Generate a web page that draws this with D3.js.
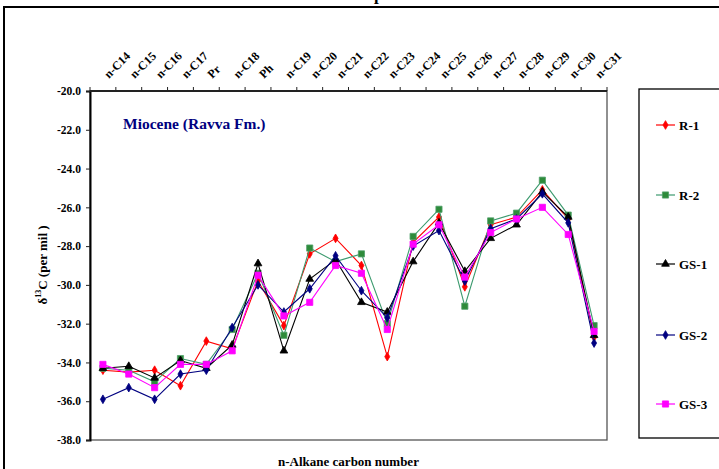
<!DOCTYPE html>
<html>
<head>
<meta charset="utf-8">
<script src="https://cdn.jsdelivr.net/npm/d3@7"></script>
<style>
  html, body { margin: 0; padding: 0; background: #fff; }
  svg { display: block; font-family: "Liberation Serif", "Times New Roman", serif; font-weight: bold; }
</style>
</head>
<body>
<script>
// n-alkane / isoprenoid compounds along the x axis
const categories = ["n-C14", "n-C15", "n-C16", "n-C17", "Pr", "n-C18", "Ph", "n-C19", "n-C20", "n-C21",
                    "n-C22", "n-C23", "n-C24", "n-C25", "n-C26", "n-C27", "n-C28", "n-C29", "n-C30", "n-C31"];

// δ13C values (per mil) for each sample
const r1  = [-34.4, -34.5, -34.4, -35.2, -32.9, -33.3, -29.8, -32.1, -28.4, -27.6, -29.0, -33.7, -27.8, -26.5, -30.1, -26.9, -26.5, -25.1, -26.6, -32.7];
const r2  = [-34.3, -34.4, -35.0, -33.8, -34.1, -32.3, -29.4, -32.6, -28.1, -28.8, -28.4, -32.0, -27.5, -26.1, -31.1, -26.7, -26.3, -24.6, -26.4, -32.1];
const gs1 = [-34.3, -34.2, -34.8, -33.9, -34.3, -33.1, -28.9, -33.4, -29.7, -28.7, -30.9, -31.4, -28.8, -26.8, -29.3, -27.6, -26.9, -25.2, -26.5, -32.6];
const gs2 = [-35.9, -35.3, -35.9, -34.6, -34.4, -32.2, -30.0, -31.4, -30.2, -28.5, -30.3, -31.7, -28.0, -27.2, -29.8, -27.1, -26.6, -25.3, -26.8, -33.0];
const gs3 = [-34.1, -34.6, -35.3, -34.1, -34.1, -33.4, -29.5, -31.6, -30.9, -29.0, -29.4, -32.3, -27.9, -26.9, -29.6, -27.3, -26.6, -26.0, -27.4, -32.4];

const seriesNames = ["R-1", "R-2", "GS-1", "GS-2", "GS-3"];
const seriesValues = [r1, r2, gs1, gs2, gs3];

// y axis ticks and their printed labels
const yTicks = [-20, -22, -24, -26, -28, -30, -32, -34, -36, -38];
const yTickLabels = ["-20.0", "-22.0", "-24.0", "-26.0", "-28.0", "-30.0", "-32.0", "-34.0", "-36.0", "-38.0"];

// drawing styles per series
const styles = {
  "R-1":  { line: "#ff0000", fill: "#ff0000", stroke: "#ff0000", symbol: d3.symbolDiamond, size: 22 },
  "R-2":  { line: "#3c9a6e", fill: "#2e8b3a", stroke: "#4f9f6a", symbol: d3.symbolSquare,  size: 38 },
  "GS-1": { line: "#000000", fill: "#000000", stroke: "#000000", symbol: d3.symbolTriangle, size: 26 },
  "GS-2": { line: "#000080", fill: "#000080", stroke: "#000080", symbol: d3.symbolDiamond, size: 22 },
  "GS-3": { line: "#ff00ff", fill: "#ff00ff", stroke: "#ff00ff", symbol: d3.symbolSquare,  size: 38 }
};

const W = 719, H = 469;
const plot = { left: 90, right: 607, top: 91, bottom: 440 };

const svg = d3.select("body").append("svg").attr("width", W).attr("height", H);

// outer chart frame
svg.append("rect").attr("x", 4).attr("y", 7).attr("width", W + 10).attr("height", H + 10)
  .attr("fill", "none").attr("stroke", "#000").attr("stroke-width", 2);

// chart title (runs above the visible frame)
const title = svg.append("text").attr("y", 0).attr("font-size", 17)
  .text("δ13C profile of n-alkanes");
{
  const node = title.node();
  const str = node.textContent;
  const idx = str.indexOf("p");
  const pre = node.getSubStringLength(0, idx);
  title.attr("x", 374 - pre);
}

const x = d3.scaleBand().domain(categories).range([plot.left, plot.right]).padding(0);
const y = d3.scaleLinear().domain([-38, -20]).range([plot.bottom, plot.top]);

// plot area border
svg.append("rect")
  .attr("x", plot.left).attr("y", plot.top)
  .attr("width", plot.right - plot.left).attr("height", plot.bottom - plot.top)
  .attr("fill", "#fff").attr("stroke", "#555").attr("stroke-width", 1.3);

// y axis
const yAxis = d3.axisLeft(y).tickValues(yTicks)
  .tickFormat((d, i) => yTickLabels[i]).tickSize(4).tickPadding(5);
const gy = svg.append("g").attr("transform", `translate(${plot.left},0)`).call(yAxis);
gy.select(".domain").attr("stroke", "#000").attr("stroke-width", 2);
gy.selectAll(".tick line").attr("stroke", "#222");
gy.selectAll(".tick text").attr("font-size", 11.5).attr("font-family", "Liberation Serif, serif")
  .attr("font-weight", "bold").attr("fill", "#000");

// x axis along the top, ticks on category boundaries
const gx = svg.append("g");
gx.append("line").attr("x1", plot.left).attr("x2", plot.right)
  .attr("y1", plot.top).attr("y2", plot.top).attr("stroke", "#222").attr("stroke-width", 2);
const boundaries = categories.map(c => x(c)).concat([x(categories[categories.length - 1]) + x.bandwidth()]);
gx.selectAll("line.tick").data(boundaries).enter().append("line").attr("class", "tick")
  .attr("x1", d => d).attr("x2", d => d).attr("y1", plot.top).attr("y2", plot.top - 4)
  .attr("stroke", "#222").attr("stroke-width", 1);
gx.selectAll("text.cat").data(categories).enter().append("text").attr("class", "cat")
  .attr("font-size", 12)
  .attr("transform", d => `translate(${x(d) + x.bandwidth() / 2 + 6},79) rotate(-45)`)
  .text(d => d);

// plot subtitle
svg.append("text").attr("x", 123).attr("y", 129).attr("font-size", 15.5).attr("fill", "#000080")
  .text("Miocene (Ravva Fm.)");

// axis titles
const yTitle = svg.append("text").attr("transform", "translate(47,265) rotate(-90)")
  .attr("text-anchor", "middle").attr("font-size", 13);
yTitle.append("tspan").text("δ");
yTitle.append("tspan").attr("font-size", 8).attr("dy", -6).text("13");
yTitle.append("tspan").attr("dy", 6).text("C (per mil )");

svg.append("text").attr("x", (plot.left + plot.right) / 2).attr("y", 466)
  .attr("text-anchor", "middle").attr("font-size", 13).text("n-Alkane carbon number");

// series lines and markers
const line = d3.line().x((d, i) => x(categories[i]) + x.bandwidth() / 2).y(d => y(d));
seriesNames.forEach((name, k) => {
  const st = styles[name];
  const vals = seriesValues[k];
  const g = svg.append("g");
  g.append("path").attr("d", line(vals)).attr("fill", "none")
    .attr("stroke", st.line).attr("stroke-width", 1.1);
  g.selectAll("path.m").data(vals).enter().append("path").attr("class", "m")
    .attr("d", d3.symbol().type(st.symbol).size(st.size))
    .attr("transform", (d, i) => `translate(${x(categories[i]) + x.bandwidth() / 2},${y(d)})`)
    .attr("fill", st.fill).attr("stroke", st.stroke).attr("stroke-width", 0.8);
});

// legend
svg.append("rect").attr("x", 639).attr("y", 89).attr("width", 100).attr("height", 349)
  .attr("fill", "#fff").attr("stroke", "#000").attr("stroke-width", 1.3);
const legendY = [125, 195, 264, 335, 404];
seriesNames.forEach((name, k) => {
  const st = styles[name];
  const g = svg.append("g").attr("transform", `translate(0,${legendY[k]})`);
  g.append("line").attr("x1", 656).attr("x2", 675).attr("y1", 0).attr("y2", 0)
    .attr("stroke", st.line).attr("stroke-width", 1.2);
  g.append("path").attr("d", d3.symbol().type(st.symbol).size(st.size)())
    .attr("transform", "translate(665.5,0)")
    .attr("fill", st.fill).attr("stroke", st.stroke).attr("stroke-width", 0.8);
  g.append("text").attr("x", 679).attr("y", 4.5).attr("font-size", 13).text(name);
});
</script>
</body>
</html>
